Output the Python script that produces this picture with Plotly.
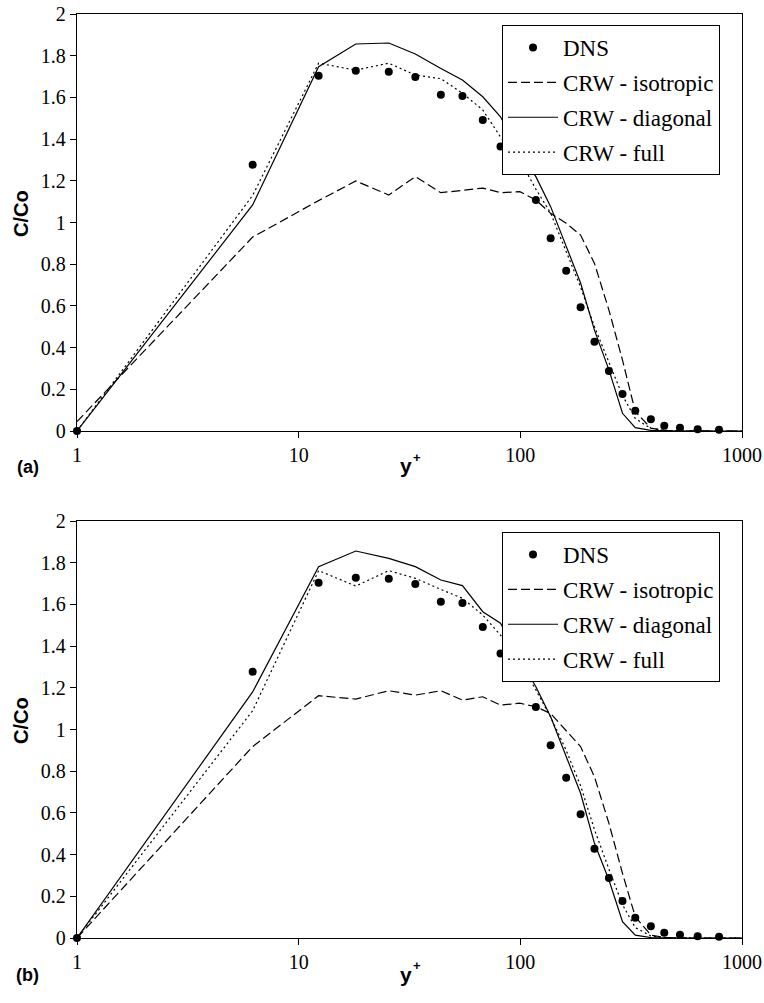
import plotly.graph_objects as go

# ---- data ----
y_plus = [1, 6.2, 12.3, 18.1, 25.5, 33.6, 43.8, 54.8, 67.7, 81.4, 99.5, 117.5, 137,
          161, 187, 216, 251, 289, 330, 388, 446, 525, 631, 788]
dns = [0, 1.277, 1.704, 1.728, 1.723, 1.698, 1.613, 1.607, 1.492, 1.364, 1.255, 1.108,
       0.924, 0.769, 0.593, 0.428, 0.288, 0.177, 0.097, 0.056, 0.025, 0.016, 0.008, 0.006]

y_plus_crw = y_plus + [1000]

# panel (a)
a_iso = [0.045, 0.93, 1.105, 1.199, 1.132, 1.22, 1.143, 1.155, 1.165, 1.143, 1.148, 1.108,
         1.044, 0.996, 0.94, 0.804, 0.58, 0.34, 0.093, 0.014, 0.003, 0.001, 0, 0, 0]
a_diag = [0, 1.084, 1.747, 1.856, 1.861, 1.808, 1.739, 1.683, 1.603, 1.507, 1.33, 1.22,
          1.076, 0.884, 0.71, 0.484, 0.293, 0.085, 0.016, 0.003, 0, 0, 0, 0, 0]
a_full = [0, 1.13, 1.764, 1.731, 1.764, 1.707, 1.69, 1.62, 1.54, 1.41, 1.30, 1.16,
          1.045, 0.86, 0.69, 0.5, 0.33, 0.17, 0.06, 0.012, 0.003, 0, 0, 0, 0]

# panel (b)
b_iso = [0, 0.918, 1.162, 1.146, 1.186, 1.165, 1.186, 1.141, 1.157, 1.117, 1.126, 1.109,
         1.077, 0.997, 0.918, 0.773, 0.55, 0.31, 0.102, 0.014, 0.002, 0, 0, 0, 0]
b_diag = [0, 1.18, 1.781, 1.856, 1.821, 1.781, 1.717, 1.69, 1.565, 1.51, 1.34, 1.205,
          1.061, 0.87, 0.694, 0.454, 0.278, 0.078, 0.014, 0.002, 0, 0, 0, 0, 0]
b_full = [0, 1.09, 1.762, 1.688, 1.762, 1.725, 1.672, 1.629, 1.549, 1.453, 1.32, 1.19,
          1.06, 0.90, 0.73, 0.52, 0.33, 0.16, 0.05, 0.01, 0.002, 0, 0, 0, 0]

x_tickvals = [1, 10, 100, 1000]
x_ticktext = ["1", "10", "100", "1000"]
y_tickvals = [0, 0.2, 0.4, 0.6, 0.8, 1, 1.2, 1.4, 1.6, 1.8, 2]
y_ticktext = ["0", "0.2", "0.4", "0.6", "0.8", "1", "1.2", "1.4", "1.6", "1.8", "2"]

names = ["DNS", "CRW - isotropic", "CRW - diagonal", "CRW - full"]

W, H = 764, 1003
SERIF = "Liberation Serif"
SANS = "Liberation Sans"

fig = go.Figure()

panels = [
    ("x", "y", "legend", a_iso, a_diag, a_full),
    ("x2", "y2", "legend2", b_iso, b_diag, b_full),
]
for xa, ya, lg, iso, diag, full in panels:
    fig.add_trace(go.Scatter(x=y_plus, y=dns, mode="markers", name=names[0],
                             marker=dict(color="black", size=8), cliponaxis=False,
                             xaxis=xa, yaxis=ya, legend=lg, legendgroup=lg + "a"))
    fig.add_trace(go.Scatter(x=y_plus_crw, y=iso, mode="lines", name=names[1],
                             line=dict(color="black", width=1.2, dash="9px,4px"),
                             xaxis=xa, yaxis=ya, legend=lg, legendgroup=lg + "b"))
    fig.add_trace(go.Scatter(x=y_plus_crw, y=diag, mode="lines", name=names[2],
                             line=dict(color="black", width=1.2),
                             xaxis=xa, yaxis=ya, legend=lg, legendgroup=lg + "c"))
    fig.add_trace(go.Scatter(x=y_plus_crw, y=full, mode="lines", name=names[3],
                             line=dict(color="black", width=1.2, dash="2px,3px"),
                             xaxis=xa, yaxis=ya, legend=lg, legendgroup=lg + "d"))

x_dom = [77 / W, 742 / W]
top_dom = [1 - 431 / H, 1 - 14 / H]
bot_dom = [1 - 938 / H, 1 - 521 / H]

xcommon = dict(type="log", range=[0, 3], tickvals=x_tickvals, ticktext=x_ticktext,
               ticks="outside", ticklen=6, tickcolor="black", tickwidth=1.2,
               showline=True, linecolor="black", linewidth=1.3, mirror=True,
               showgrid=False, zeroline=False, automargin=False,
               tickfont=dict(family=SERIF, size=20, color="black"), domain=x_dom)
ycommon = dict(range=[0, 2], tickvals=y_tickvals, ticktext=y_ticktext,
               ticks="outside", ticklen=6, tickcolor="black", tickwidth=1.2,
               showline=True, linecolor="black", linewidth=1.3, mirror=True,
               showgrid=False, zeroline=False, automargin=False,
               tickfont=dict(family=SERIF, size=20, color="black"))

legcommon = dict(x=502 / W, xanchor="left", yanchor="top",
                 bgcolor="white", bordercolor="black", borderwidth=1,
                 font=dict(family=SERIF, size=23, color="black"),
                 tracegroupgap=2, itemwidth=50)

fig.update_layout(
    width=W, height=H, autosize=False,
    margin=dict(l=0, r=0, t=0, b=0),
    paper_bgcolor="white", plot_bgcolor="white",
    xaxis=dict(anchor="y", **xcommon),
    yaxis=dict(anchor="x", domain=top_dom, **ycommon),
    xaxis2=dict(anchor="y2", **xcommon),
    yaxis2=dict(anchor="x2", domain=bot_dom, **ycommon),
    legend=dict(y=1 - 25 / H, **legcommon),
    legend2=dict(y=1 - 532 / H, **legcommon),
    showlegend=True,
)


def pa(px, py):
    return px / W, 1 - py / H


ann = []
for cy in (214, 721):
    x, y = pa(21, cy)
    ann.append(dict(text="<b>C/Co</b>", x=x, y=y, xref="paper", yref="paper",
                    xanchor="center", yanchor="middle", textangle=-90, showarrow=False,
                    font=dict(family=SANS, size=20, color="black")))
for cy, lab in ((467, "(a)"), (975, "(b)")):
    x, y = pa(406, cy - 1)
    ann.append(dict(text="<b>y</b>", x=x, y=y, xref="paper", yref="paper",
                    xanchor="center", yanchor="middle", showarrow=False,
                    font=dict(family=SANS, size=21, color="black")))
    x, y = pa(417, cy - 10)
    ann.append(dict(text="<b>+</b>", x=x, y=y, xref="paper", yref="paper",
                    xanchor="center", yanchor="middle", showarrow=False,
                    font=dict(family=SANS, size=13, color="black")))
    x, y = pa(28, cy)
    ann.append(dict(text="<b>" + lab + "</b>", x=x, y=y, xref="paper", yref="paper",
                    xanchor="center", yanchor="middle", showarrow=False,
                    font=dict(family=SANS, size=18, color="black")))
fig.update_layout(annotations=ann)

fig.write_html("out.html")
